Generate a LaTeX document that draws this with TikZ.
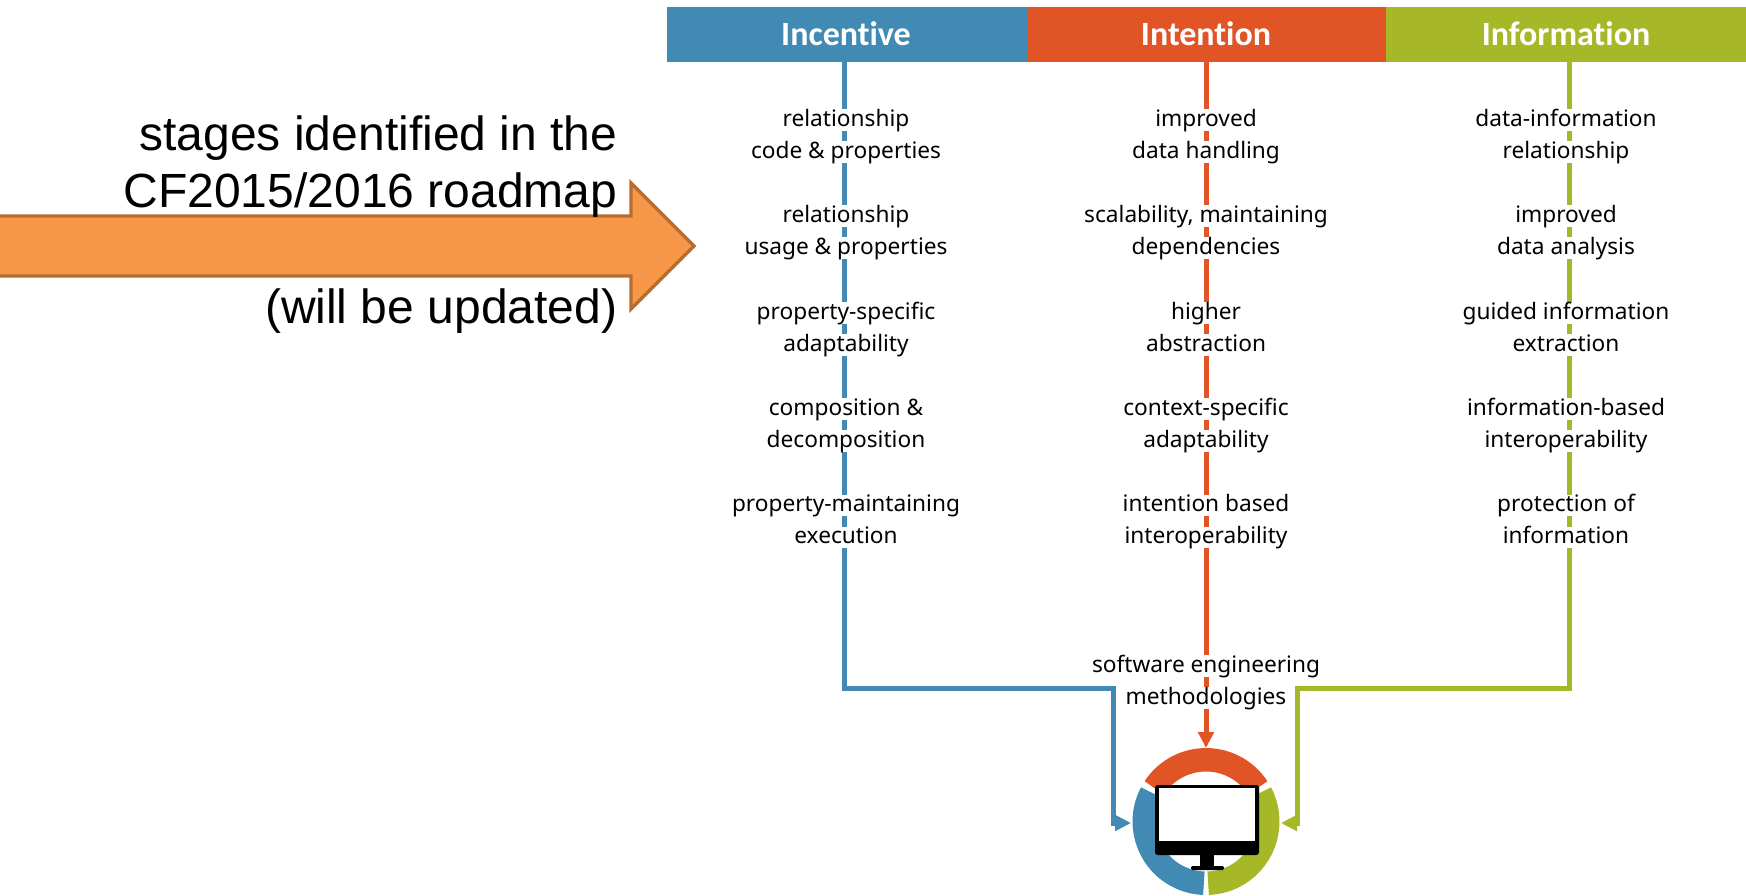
\documentclass[tikz,border=0pt]{standalone}
\usepackage{fontspec}
\usetikzlibrary{arrows.meta}
\setmainfont{Noto Sans}
\newfontfamily\arialfont{Liberation Sans}
\newfontfamily\headfont[Ligatures=NoCommon]{Carlito}
\definecolor{incblue}{HTML}{418AB3}
\definecolor{intred}{HTML}{E05426}
\definecolor{infgreen}{HTML}{A6B727}
\definecolor{roadfill}{HTML}{F79646}
\definecolor{roaddraw}{HTML}{B66D31}
\setlength{\fboxsep}{0pt}
\newcommand{\halo}[1]{\colorbox{white}{\rule[-3.5pt]{0pt}{16pt}\smash{#1}}}
\tikzset{
  header/.style={fill=#1,inner sep=0pt,minimum height=41.25pt},
  headtext/.style={text=white,inner sep=0pt,font=\headfont\fontsize{25.5}{30}\selectfont\bfseries},
  stagetext/.style={align=center,inner sep=0pt,font=\fontsize{17}{24}\selectfont},
  roadtext/.style={anchor=base east,inner sep=0pt,font=\fontsize{36}{40}\selectfont\arialfont},
  flow/.style={draw=#1,line width=3.75pt,-{Triangle[length=12pt,width=11.5pt]}},
  ringseg/.style={draw=#1,line width=17.6pt}
}
\begin{document}
\begin{tikzpicture}[x=0.75pt,y=-0.75pt]
\useasboundingbox (0,0) rectangle (1746,896);

%headers
\node[header=incblue,minimum width=270pt] (hdinc) at (847,34.5) {};
\node[header=intred,minimum width=269.25pt] (hdint) at (1206.5,34.5) {};
\node[header=infgreen,minimum width=270pt] (hdinf) at (1566,34.5) {};
\node[headtext] (ttinc) at (846,34) {Incentive};
\node[headtext] (ttint) at (1206,34) {Intention};
\node[headtext] (ttinf) at (1566,34) {Information};

%pc
\coordinate (pc) at (1206,821.5);
\draw[ringseg=intred] ([shift={(33:46.3pt)}]pc) arc[start angle=33,end angle=147,radius=46.3pt];
\draw[ringseg=incblue] ([shift={(152:46.3pt)}]pc) arc[start angle=152,end angle=268,radius=46.3pt];
\draw[ringseg=infgreen] ([shift={(272:46.3pt)}]pc) arc[start angle=272,end angle=388,radius=46.3pt];
\fill[black,rounded corners=2pt] (1155,785) rectangle (1259,855);
\fill[white] (1159,788) rectangle (1255,841);
\fill[black] (1200,855) rectangle (1214,866);
\fill[black,rounded corners=1pt] (1191,866) rectangle (1224,870);

%connectors
\coordinate (elbinc) at (844,688);
\coordinate (elbinf) at (1569,688);
\coordinate (tipinc) at (1131,823);
\coordinate (tipint) at (1206,748);
\coordinate (tipinf) at (1281,823);
\coordinate (dropinc) at (1113,688);
\coordinate (dropinf) at (1297,688);
\draw[flow=incblue] (hdinc.south -| elbinc) -- (elbinc) -- (dropinc) -- (dropinc |- tipinc) -- (tipinc);
\draw[flow=intred] (hdint.south -| tipint) -- (tipint);
\draw[flow=infgreen] (hdinf.south -| elbinf) -- (elbinf) -- (dropinf) -- (dropinf |- tipinf) -- (tipinf);

%1
\node[stagetext] (inc1) at (846,136) {\halo{relationship}\\\halo{code \& properties}};
\node[stagetext] (inc2) at (846,232) {\halo{relationship}\\\halo{usage \& properties}};
\node[stagetext] (inc3) at (846,329) {\halo{property-specific}\\\halo{adaptability}};
\node[stagetext] (inc4) at (846,425) {\halo{composition \&}\\\halo{decomposition}};
\node[stagetext] (inc5) at (846,521.5) {\halo{property-maintaining}\\\halo{execution}};

%2
\node[stagetext] (int1) at (1206,136) {\halo{improved}\\\halo{data handling}};
\node[stagetext] (int2) at (1206,232) {\halo{scalability, maintaining}\\\halo{dependencies}};
\node[stagetext] (int3) at (1206,329) {\halo{higher}\\\halo{abstraction}};
\node[stagetext] (int4) at (1206,425) {\halo{context-specific}\\\halo{adaptability}};
\node[stagetext] (int5) at (1206,521.5) {\halo{intention based}\\\halo{interoperability}};

%3
\node[stagetext] (inf1) at (1566,136) {\halo{data-information}\\\halo{relationship}};
\node[stagetext] (inf2) at (1566,232) {\halo{improved}\\\halo{data analysis}};
\node[stagetext] (inf3) at (1566,329) {\halo{guided information}\\\halo{extraction}};
\node[stagetext] (inf4) at (1566,425) {\halo{information-based}\\\halo{interoperability}};
\node[stagetext] (inf5) at (1566,521.5) {\halo{protection of}\\\halo{information}};

\node[stagetext] (swe) at (1206,682) {\halo{software engineering}\\\halo{methodologies}};

%roadmap
\draw[fill=roadfill,draw=roaddraw,line width=2.5pt,miter limit=8] (-10,216) -- (631,216) -- (631,183) -- (694,246) -- (631,309) -- (631,276) -- (-10,276) -- cycle;
\node[roadtext] (rd1) at (617.5,150) {stages identified in the};
\node[roadtext] (rd2) at (617.5,207) {CF2015/2016 roadmap};
\node[roadtext] (rd3) at (617.5,323) {(will be updated)};
\end{tikzpicture}
\end{document}
